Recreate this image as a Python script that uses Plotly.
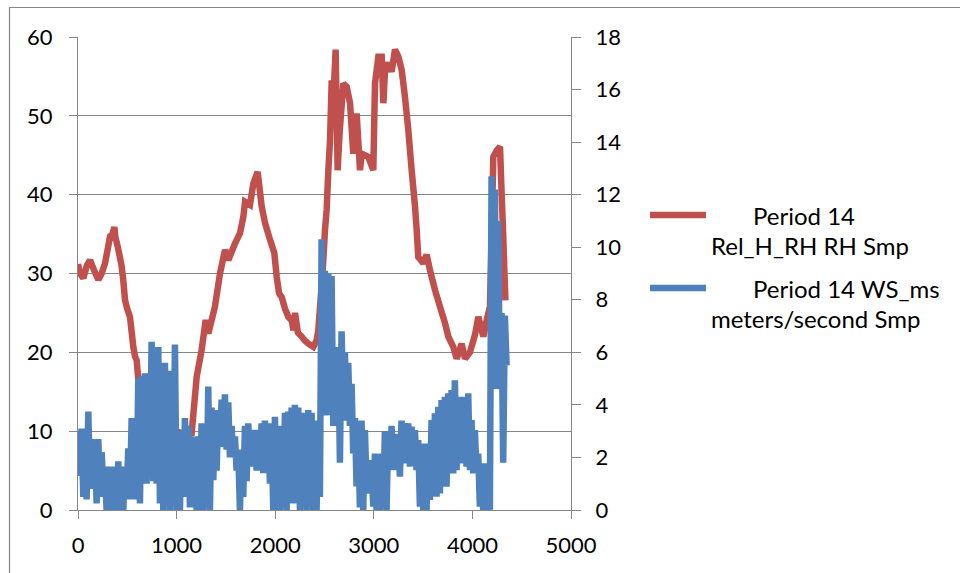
import plotly.graph_objects as go

# ---------------- data ----------------
# Period 14 Rel_H_RH RH Smp  (left axis, % RH) : sample index -> value
rh_x = [0, 20, 54, 90, 122, 160, 206, 240, 274, 300, 325, 350, 369, 380, 392, 410, 443, 460,
        477, 500, 527, 545, 561, 578, 595, 612, 700, 800, 900, 1000, 1100, 1146, 1153, 1204,
        1254, 1295, 1322, 1389, 1440, 1491, 1525, 1592, 1643, 1677, 1694, 1744, 1778, 1822,
        1863, 1897, 1947, 1991, 2015, 2039, 2066, 2100, 2133, 2170, 2184, 2201, 2230, 2268,
        2300, 2336, 2387, 2420, 2437, 2480, 2505, 2522, 2539, 2556, 2573, 2590, 2613, 2633,
        2654, 2691, 2725, 2759, 2792, 2826, 2860, 2877, 2944, 2995, 3012, 3046, 3080, 3097,
        3114, 3148, 3181, 3215, 3249, 3283, 3316, 3350, 3384, 3418, 3435, 3451, 3502, 3536,
        3570, 3621, 3671, 3722, 3756, 3806, 3841, 3891, 3925, 3975, 4026, 4060, 4111, 4145,
        4178, 4195, 4212, 4246, 4280, 4297, 4313, 4325, 4335]
rh_y = [31.2, 30.0, 29.4, 31.0, 31.7, 30.5, 29.2, 30.0, 31.3, 33.0, 34.7, 35.0, 35.9, 34.5,
        34.0, 33.0, 30.9, 29.0, 26.6, 25.5, 24.5, 22.5, 20.7, 19.5, 19.0, 16.5, 14.0, 12.0,
        11.0, 10.0, 9.5, 9.8, 9.8, 16.9, 20.3, 24.1, 22.4, 25.8, 30.0, 33.0, 31.7, 33.8, 35.1,
        37.2, 39.1, 38.7, 41.4, 42.9, 38.5, 36.4, 34.3, 32.6, 29.6, 27.5, 27.0, 25.5, 24.5,
        24.0, 22.8, 25.0, 22.5, 22.0, 21.5, 21.1, 20.7, 21.5, 22.8, 30.0, 35.5, 38.1, 43.1,
        46.9, 54.5, 52.0, 58.4, 43.1, 48.0, 54.1, 53.7, 51.6, 45.2, 50.3, 43.1, 45.2, 44.8,
        43.1, 54.1, 57.5, 57.5, 51.6, 55.8, 56.7, 55.6, 58.4, 57.5, 55.8, 52.4, 48.2, 43.1,
        38.5, 35.5, 32.1, 31.3, 32.4, 30.4, 27.9, 25.8, 23.7, 22.0, 20.7, 19.2, 21.1, 19.2,
        20.0, 22.2, 24.5, 22.0, 24.1, 25.8, 35.0, 44.8, 45.6, 46.1, 40.0, 34.7, 30.0, 26.6]

# Period 14 WS_ms meters/second Smp (right axis): high / low reading in each window
ws_hi = [3.0, 3.1, 2.7, 3.75, 2.7, 2.3, 2.7, 2.2, 1.5, 1.65,
         1.65, 1.4, 1.85, 1.65, 1.5, 2.35, 3.5, 3.4, 5.0, 5.1,
         5.2, 5.2, 6.4, 5.6, 6.2, 5.5, 5.6, 5.2, 5.3, 6.3,
         3.0, 2.9, 3.5, 3.2, 2.8, 2.0, 2.8, 3.3, 2.5, 4.7,
         3.9, 3.2, 3.8, 4.2, 4.4, 4.1, 3.2, 2.8, 2.2, 2.3,
         3.2, 3.3, 2.65, 3.05, 3.05, 3.3, 3.4, 3.3, 3.05, 3.55,
         3.2, 3.05, 3.7, 3.75, 3.9, 4.0, 3.9, 3.7, 3.55, 3.8,
         3.7, 2.8, 3.4, 10.3,
         9.1, 9.0, 8.9, 6.0, 6.2, 6.8, 6.0, 5.6, 4.8, 3.5,
         2.9, 3.4, 3.04, 1.9, 1.65, 2.15, 2.03, 2.15, 3.0, 2.9,
         3.2, 2.9, 2.66, 3.4, 3.3, 3.3, 3.17, 3.04, 2.66, 2.15,
         2.53, 2.41, 3.42, 3.68, 3.93, 4.18, 4.31, 4.44, 4.56, 4.94,
         4.31, 4.31, 4.18, 4.44, 3.42, 3.04, 2.15, 1.39, 1.77, 1.39,
         12.7, 12.2, 11.0, 7.5, 7.4]
ws_lo = [1.3, 0.5, 0.4, 0.9, 0.8, 0.25, 0.5, 0.9, 0.0, 0.0,
         0.0, 0.0, 0.0, 0.0, 0.5, 0.4, 0.4, 0.4, 0.25, 1.8,
         1.0, 1.8, 1.1, 1.0, 0.25, 0.0, 1.1, 0.0, 0.5, 0.0,
         0.0, 0.5, 0.9, 0.1, 0.76, 0.0, 0.0, 0.0, 0.5, 0.0,
         1.14, 1.5, 2.4, 2.4, 2.3, 2.0, 2.0, 1.5, 0.0, 0.5,
         1.1, 1.78, 1.65, 1.5, 1.78, 1.4, 1.4, 1.0, 0.0, 0.0,
         0.0, 0.5, 0.0, 0.9, 0.25, 0.76, 0.0, 0.64, 0.0, 0.5,
         0.0, 0.0, 0.5, 4.0,
         3.6, 4.4, 3.2, 3.7, 1.8, 4.2, 3.4, 3.2, 2.15, 0.9,
         0.1, 0.0, 0.89, 0.63, 0.13, 0.0, 0.0, 0.13, 0.0, 1.52,
         1.52, 1.65, 1.27, 1.77, 2.15, 1.65, 1.77, 1.52, 0.13, 0.0,
         0.0, 0.38, 0.51, 0.51, 0.63, 1.27, 0.89, 1.39, 1.39, 1.52,
         1.77, 2.41, 1.65, 1.52, 1.39, 1.39, 0.13, 0.0, 0.0, 0.0,
         4.6, 4.6, 4.6, 1.8, 5.5]
WS_X0 = 3          # first sample index
WS_STEP = 33.8     # samples per window

x_ticks = [0, 1000, 2000, 3000, 4000, 5000]
y_ticks = [0, 10, 20, 30, 40, 50, 60]
y2_ticks = [0, 2, 4, 6, 8, 10, 12, 14, 16, 18]

rh_name = "Period 14 Rel_H_RH RH Smp"
ws_name = "Period 14 WS_ms meters/second Smp"

# ---------------- build ----------------
ws_x, ws_y = [], []
for i, (h, l) in enumerate(zip(ws_hi, ws_lo)):
    ws_x += [WS_X0 + WS_STEP * i, WS_X0 + WS_STEP * i + WS_STEP / 2]
    ws_y += [h, l]

RED = "#C0504D"
BLUE = "#4F81BD"
GRID = "#868686"
FONT = "Lato, Carlito, Calibri, sans-serif"
LW = 6.5

fig = go.Figure()
fig.add_trace(go.Scatter(x=rh_x, y=rh_y, mode="lines", name=rh_name,
                         line=dict(color=RED, width=LW, simplify=False), yaxis="y"))
fig.add_trace(go.Scatter(x=ws_x, y=ws_y, mode="lines", name=ws_name,
                         line=dict(color=BLUE, width=LW, simplify=False), yaxis="y2"))

# plot-area geometry (pixels) for the decorations
L, R, T, B = 78, 571, 37, 510
def pxx(v):
    return (v - L) / (R - L)
def pxy(v):
    return (B - v) / (B - T)

fig.update_layout(
    width=960, height=573,
    margin=dict(l=L, r=960 - R, t=T, b=573 - B, pad=0),
    paper_bgcolor="white", plot_bgcolor="white",
    showlegend=False,
    font=dict(family=FONT, size=22, color="#000000"),
    xaxis=dict(range=[0, 5000], tickvals=x_ticks, showgrid=False, zeroline=False,
               showline=True, linecolor=GRID, linewidth=1,
               ticks="outside", ticklen=8, tickcolor=GRID, tickwidth=1,
               ticklabelstandoff=8),
    yaxis=dict(range=[0, 60], tickvals=y_ticks, showgrid=True, gridcolor=GRID, gridwidth=1,
               zeroline=False, showline=True, linecolor=GRID, linewidth=1,
               ticks="outside", ticklen=8, tickcolor=GRID, tickwidth=1,
               ticklabelstandoff=12),
    yaxis2=dict(range=[0, 18], tickvals=y2_ticks, overlaying="y", side="right",
                showgrid=False, zeroline=False, showline=True, linecolor=GRID, linewidth=1,
                ticks="outside", ticklen=9, tickcolor=GRID, tickwidth=1,
                ticklabelstandoff=10),
)

shapes = [
    dict(type="rect", xref="paper", yref="paper", x0=pxx(9.5), x1=pxx(1000),
         y0=pxy(640), y1=pxy(7.5), line=dict(color=GRID, width=1.2), layer="above"),
    dict(type="line", xref="paper", yref="paper", x0=pxx(650), x1=pxx(706),
         y0=pxy(215), y1=pxy(215), line=dict(color=RED, width=LW)),
    dict(type="line", xref="paper", yref="paper", x0=pxx(650), x1=pxx(706),
         y0=pxy(288), y1=pxy(288), line=dict(color=BLUE, width=LW)),
]
fig.update_layout(shapes=shapes)

def leg_text(x, y, t):
    return dict(xref="paper", yref="paper", x=pxx(x), y=pxy(y), text=t,
                showarrow=False, xanchor="left", yanchor="middle",
                font=dict(family=FONT, size=24, color="#000000"))

fig.update_layout(annotations=[
    leg_text(751, 215, "Period 14"),
    leg_text(709, 245, "Rel_H_RH RH Smp"),
    leg_text(751, 288, "Period 14 WS_ms"),
    leg_text(709, 318, "meters/second Smp"),
])

fig.write_html("out.html", config={"displayModeBar": False},
               post_script="document.body.style.margin='0px';document.body.style.overflow='hidden';")
